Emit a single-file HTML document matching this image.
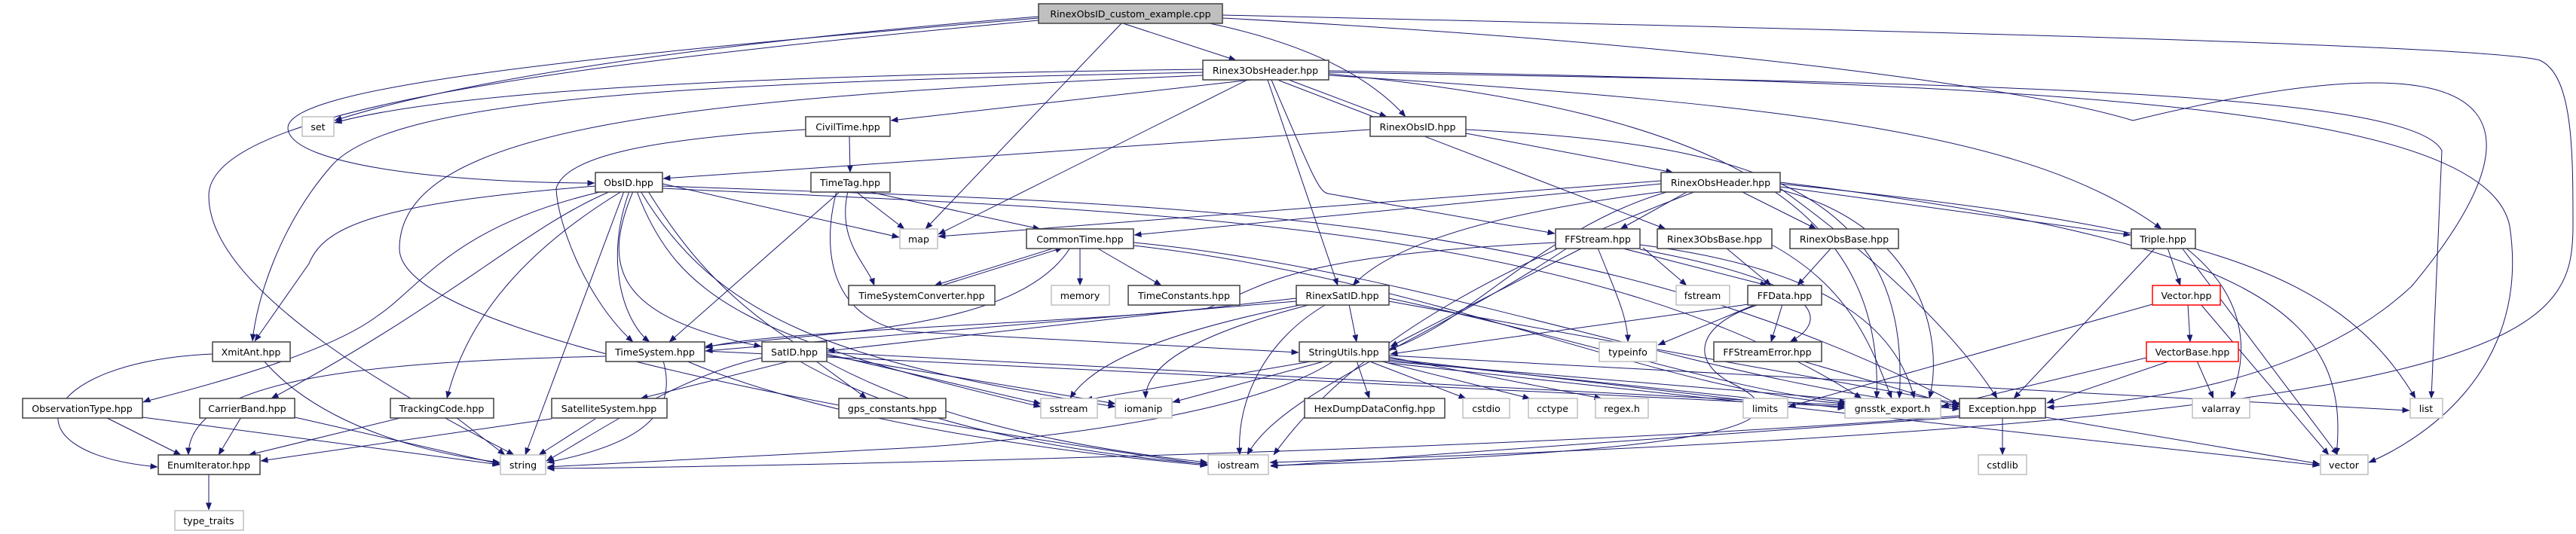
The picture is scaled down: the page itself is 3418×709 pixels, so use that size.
<!DOCTYPE html>
<html><head><meta charset="utf-8"><style>
html,body{margin:0;padding:0;background:#fff;}
svg{display:block;}
text{font-family:"DejaVu Sans","Liberation Sans",sans-serif;font-size:12.6px;fill:#000;text-anchor:middle;}
.e{fill:none;stroke:#191970;stroke-width:1;marker-end:url(#a);}
.b{fill:#fff;stroke:#404040;stroke-width:1.5;}
.g{fill:#fff;stroke:#bfbfbf;stroke-width:1.5;}
.r{fill:#fff;stroke:#ff0000;stroke-width:1.5;}
</style></head><body>
<svg width="3418" height="709" viewBox="0 0 3418 709" xmlns="http://www.w3.org/2000/svg">
<defs><marker id="a" markerWidth="10" markerHeight="8" refX="9.5" refY="4" orient="auto" markerUnits="userSpaceOnUse"><path d="M0,0 L10,4 L0,8 z" fill="#191970"/></marker></defs>
<g>
<path class="e" d="M1490,31 L1640,80"/>
<path class="e" d="M1605,31 Q1790,70 1865,155"/>
<path class="e" d="M1488,31 L1228,304"/>
<path class="e" d="M1378,22 C900,60 600,110 444,160"/>
<path class="e" d="M1378,24 C700,80 382,120 382,170 C384,220 600,243 789,243"/>
<path class="e" d="M1378,27 C700,90 277,150 277,260 C277,400 600,560 682,604"/>
<path class="e" d="M1622,20 C2500,40 3300,60 3370,80 C3414,100 3414,200 3414,300 C3414,450 3350,560 1685,614"/>
<path class="e" d="M1622,24 C2300,60 2700,120 2830,160 C3400,20 3350,200 3200,380 C3050,520 2800,535 2716,541"/>
<path class="e" d="M1596,92 C1000,100 600,120 444,163"/>
<path class="e" d="M1596,96 C900,110 520,130 440,220 C370,300 340,400 335,453"/>
<path class="e" d="M1660,106 L1182,160"/>
<path class="e" d="M1655,106 L1245,311"/>
<path class="e" d="M1596,100 C900,130 530,170 530,330 C530,450 1200,560 1602,617"/>
<path class="e" d="M1710,106 L1840,155"/>
<path class="e" d="M1682,106 L1775,379"/>
<path class="e" d="M1687,106 C1740,230 1750,255 1762,257 L2063,310"/>
<path class="e" d="M1695,106 L2210,304"/>
<path class="e" d="M1763,100 C2400,140 2700,180 2868,304"/>
<path class="e" d="M1763,96 C2600,110 3200,120 3240,200 L3226,529"/>
<path class="e" d="M1763,94 C2800,110 3300,150 3330,300 C3360,500 3200,590 3143,614"/>
<path class="e" d="M1763,98 C2300,150 2500,280 2490,529"/>
<path class="e" d="M1818,172 L880,237"/>
<path class="e" d="M1945,177 L2220,229"/>
<path class="e" d="M1945,172 C2300,190 2540,240 2520,529"/>
<path class="e" d="M1127,181 L1128,229"/>
<path class="e" d="M1069,172 C850,185 750,210 738,250 C740,300 780,400 840,454"/>
<path class="e" d="M1135,254 L1200,304"/>
<path class="e" d="M1150,254 L1380,304"/>
<path class="e" d="M1115,254 L888,454"/>
<path class="e" d="M1125,254 C1110,320 1150,350 1160,379"/>
<path class="e" d="M1110,254 C1090,330 1100,420 1200,440 L1723,468"/>
<path class="e" d="M879,244 L1193,315"/>
<path class="e" d="M879,247 C1500,270 2100,270 2600,538"/>
<path class="e" d="M879,250 C1500,280 2100,290 2470,529"/>
<path class="e" d="M790,247 C500,270 430,300 410,350 L338,453"/>
<path class="e" d="M800,254 C600,300 560,380 500,420 C420,480 200,530 190,534"/>
<path class="e" d="M810,254 C700,300 600,400 360,529"/>
<path class="e" d="M825,254 C700,330 620,420 593,529"/>
<path class="e" d="M828,254 L697,604"/>
<path class="e" d="M840,254 C800,350 810,420 1010,460"/>
<path class="e" d="M845,254 C900,400 1000,450 1381,540"/>
<path class="e" d="M850,254 C950,420 1100,480 1480,540"/>
<path class="e" d="M860,254 C950,400 1100,560 1602,614"/>
<path class="e" d="M835,254 C800,350 830,430 862,454"/>
<path class="e" d="M1400,329 L1240,379"/>
<path class="e" d="M1250,379 L1410,329"/>
<path class="e" d="M1433,329 L1433,379"/>
<path class="e" d="M1455,329 L1541,379"/>
<path class="e" d="M1420,329 C1350,440 1100,440 936,460"/>
<path class="e" d="M1504,322 C1900,360 2300,520 2600,540"/>
<path class="e" d="M1504,326 C1900,370 2200,520 2450,536"/>
<path class="e" d="M2204,240 L1245,314"/>
<path class="e" d="M2204,244 L1505,312"/>
<path class="e" d="M2240,254 L2150,304"/>
<path class="e" d="M2310,254 L2410,304"/>
<path class="e" d="M2210,254 C2000,280 1850,320 1795,379"/>
<path class="e" d="M2362,248 L2827,312"/>
<path class="e" d="M2215,254 C2050,300 1950,430 1843,464"/>
<path class="e" d="M2362,244 C2900,300 3100,350 3205,529"/>
<path class="e" d="M2362,242 C3000,320 3120,420 3100,604"/>
<path class="e" d="M2362,252 C2550,300 2580,450 2560,529"/>
<path class="e" d="M2362,250 C2500,350 2600,450 2650,529"/>
<path class="e" d="M2250,254 C2000,350 1800,450 1690,604"/>
<path class="e" d="M2180,329 L2238,379"/>
<path class="e" d="M2120,329 C2140,380 2160,420 2160,454"/>
<path class="e" d="M2150,329 L2345,379"/>
<path class="e" d="M2100,329 L1845,460"/>
<path class="e" d="M2080,329 C1900,450 1700,520 1655,604"/>
<path class="e" d="M2064,322 C1700,340 1680,380 1600,410 C1400,430 1000,440 936,462"/>
<path class="e" d="M2176,331 C2440,380 2420,430 2375,454"/>
<path class="e" d="M2176,325 C2450,360 2520,450 2540,529"/>
<path class="e" d="M2290,329 L2350,379"/>
<path class="e" d="M2430,329 L2385,379"/>
<path class="e" d="M2351,325 C2450,380 2480,450 2510,529"/>
<path class="e" d="M2365,404 L2350,454"/>
<path class="e" d="M2320,404 L1845,470"/>
<path class="e" d="M2330,404 L2200,458"/>
<path class="e" d="M2335,404 C2250,430 2240,480 2300,510 C2400,560 2300,600 1686,618"/>
<path class="e" d="M2390,479 L2600,540"/>
<path class="e" d="M1720,400 L936,466"/>
<path class="e" d="M1720,396 L1098,466"/>
<path class="e" d="M1730,404 C1550,440 1450,480 1420,529"/>
<path class="e" d="M1740,404 C1600,440 1520,480 1520,529"/>
<path class="e" d="M1760,404 C1680,450 1640,530 1645,604"/>
<path class="e" d="M1790,404 L1800,454"/>
<path class="e" d="M1843,400 L2600,536"/>
<path class="e" d="M1843,396 C2100,450 2300,520 2450,534"/>
<path class="e" d="M1050,479 L850,529"/>
<path class="e" d="M1082,479 L1150,529"/>
<path class="e" d="M1011,475 C900,500 800,570 725,612"/>
<path class="e" d="M1060,479 C1200,560 1400,600 1602,616"/>
<path class="e" d="M1097,470 L1381,536"/>
<path class="e" d="M1097,472 L1480,536"/>
<path class="e" d="M1097,468 L2448,538"/>
<path class="e" d="M880,479 C900,550 850,590 726,614"/>
<path class="e" d="M910,479 C1100,560 1400,600 1602,618"/>
<path class="e" d="M804,473 C500,480 250,500 250,604"/>
<path class="e" d="M935,466 L2448,540"/>
<path class="e" d="M282,470 C50,480 0,600 209,620"/>
<path class="e" d="M350,479 C420,560 550,600 663,614"/>
<path class="e" d="M140,554 L240,604"/>
<path class="e" d="M189,554 L663,617"/>
<path class="e" d="M320,554 L290,604"/>
<path class="e" d="M391,554 L663,616"/>
<path class="e" d="M535,554 L330,604"/>
<path class="e" d="M605,554 L670,604"/>
<path class="e" d="M732,556 L346,612"/>
<path class="e" d="M790,556 L715,604"/>
<path class="e" d="M277,629 L277,677"/>
<path class="e" d="M1800,479 L1817,529"/>
<path class="e" d="M1815,479 L1945,529"/>
<path class="e" d="M1830,479 L2030,529"/>
<path class="e" d="M1843,474 L2125,529"/>
<path class="e" d="M1745,479 L1440,531"/>
<path class="e" d="M1760,479 L1556,534"/>
<path class="e" d="M1770,479 C1650,560 1300,590 1200,595 C900,610 760,618 726,620"/>
<path class="e" d="M1843,476 L2372,538"/>
<path class="e" d="M1843,478 L2448,542"/>
<path class="e" d="M1843,480 L2600,543"/>
<path class="e" d="M1843,472 L3197,545"/>
<path class="e" d="M1843,482 L3078,618"/>
<path class="e" d="M2876,329 L2893,379"/>
<path class="e" d="M2860,329 L2672,529"/>
<path class="e" d="M2900,329 C2990,400 2980,480 2960,529"/>
<path class="e" d="M2895,329 L3102,604"/>
<path class="e" d="M2903,404 L2906,454"/>
<path class="e" d="M2856,404 L2373,540"/>
<path class="e" d="M2920,404 L3090,604"/>
<path class="e" d="M2880,479 L2716,535"/>
<path class="e" d="M2915,479 L2937,529"/>
<path class="e" d="M2848,475 L2576,540"/>
<path class="e" d="M2657,554 L2657,604"/>
<path class="e" d="M2600,552 C2000,600 1000,620 726,622"/>
<path class="e" d="M2600,554 L1686,619"/>
<path class="e" d="M2714,554 L3078,616"/>
</g>
<g>
<rect x="1378" y="5" width="244" height="26" fill="#bfbfbf" stroke="#404040" stroke-width="1.5"/><text x="1500" y="23">RinexObsID_custom_example.cpp</text>
<rect class="b" x="1596" y="80" width="167" height="26"/><text x="1679" y="98">Rinex3ObsHeader.hpp</text>
<rect class="g" x="401" y="155" width="42" height="26"/><text x="422" y="173">set</text>
<rect class="b" x="1069" y="155" width="112" height="26"/><text x="1125" y="173">CivilTime.hpp</text>
<rect class="b" x="1818" y="155" width="127" height="26"/><text x="1881" y="173">RinexObsID.hpp</text>
<rect class="b" x="790" y="229" width="89" height="26"/><text x="834" y="247">ObsID.hpp</text>
<rect class="b" x="1076" y="229" width="105" height="26"/><text x="1128" y="247">TimeTag.hpp</text>
<rect class="b" x="2204" y="229" width="158" height="26"/><text x="2283" y="247">RinexObsHeader.hpp</text>
<rect class="g" x="1194" y="304" width="50" height="26"/><text x="1219" y="322">map</text>
<rect class="b" x="1362" y="304" width="142" height="26"/><text x="1433" y="322">CommonTime.hpp</text>
<rect class="b" x="2064" y="304" width="112" height="26"/><text x="2120" y="322">FFStream.hpp</text>
<rect class="b" x="2199" y="304" width="152" height="26"/><text x="2275" y="322">Rinex3ObsBase.hpp</text>
<rect class="b" x="2375" y="304" width="144" height="26"/><text x="2447" y="322">RinexObsBase.hpp</text>
<rect class="b" x="2828" y="304" width="85" height="26"/><text x="2870" y="322">Triple.hpp</text>
<rect class="b" x="1126" y="379" width="194" height="26"/><text x="1223" y="397">TimeSystemConverter.hpp</text>
<rect class="g" x="1395" y="379" width="77" height="26"/><text x="1433" y="397">memory</text>
<rect class="b" x="1497" y="379" width="148" height="26"/><text x="1571" y="397">TimeConstants.hpp</text>
<rect class="b" x="1720" y="379" width="123" height="26"/><text x="1781" y="397">RinexSatID.hpp</text>
<rect class="g" x="2224" y="379" width="71" height="26"/><text x="2259" y="397">fstream</text>
<rect class="b" x="2319" y="379" width="98" height="26"/><text x="2368" y="397">FFData.hpp</text>
<rect class="r" x="2856" y="379" width="90" height="26"/><text x="2901" y="397">Vector.hpp</text>
<rect class="b" x="282" y="454" width="103" height="26"/><text x="333" y="472">XmitAnt.hpp</text>
<rect class="b" x="804" y="454" width="131" height="26"/><text x="869" y="472">TimeSystem.hpp</text>
<rect class="b" x="1011" y="454" width="86" height="26"/><text x="1054" y="472">SatID.hpp</text>
<rect class="b" x="1724" y="454" width="119" height="26"/><text x="1783" y="472">StringUtils.hpp</text>
<rect class="g" x="2122" y="454" width="76" height="26"/><text x="2160" y="472">typeinfo</text>
<rect class="b" x="2274" y="454" width="143" height="26"/><text x="2345" y="472">FFStreamError.hpp</text>
<rect class="r" x="2848" y="454" width="122" height="26"/><text x="2909" y="472">VectorBase.hpp</text>
<rect class="b" x="30" y="529" width="159" height="26"/><text x="109" y="547">ObservationType.hpp</text>
<rect class="b" x="265" y="529" width="126" height="26"/><text x="328" y="547">CarrierBand.hpp</text>
<rect class="b" x="518" y="529" width="137" height="26"/><text x="586" y="547">TrackingCode.hpp</text>
<rect class="b" x="732" y="529" width="153" height="26"/><text x="808" y="547">SatelliteSystem.hpp</text>
<rect class="b" x="1113" y="529" width="142" height="26"/><text x="1184" y="547">gps_constants.hpp</text>
<rect class="g" x="1381" y="529" width="75" height="26"/><text x="1418" y="547">sstream</text>
<rect class="g" x="1480" y="529" width="75" height="26"/><text x="1517" y="547">iomanip</text>
<rect class="b" x="1731" y="529" width="186" height="26"/><text x="1824" y="547">HexDumpDataConfig.hpp</text>
<rect class="g" x="1941" y="529" width="62" height="26"/><text x="1972" y="547">cstdio</text>
<rect class="g" x="2028" y="529" width="65" height="26"/><text x="2060" y="547">cctype</text>
<rect class="g" x="2117" y="529" width="70" height="26"/><text x="2152" y="547">regex.h</text>
<rect class="g" x="2313" y="529" width="59" height="26"/><text x="2342" y="547">limits</text>
<rect class="g" x="2448" y="529" width="127" height="26"/><text x="2511" y="547">gnsstk_export.h</text>
<rect class="b" x="2600" y="529" width="114" height="26"/><text x="2657" y="547">Exception.hpp</text>
<rect class="g" x="2909" y="529" width="76" height="26"/><text x="2947" y="547">valarray</text>
<rect class="g" x="3198" y="529" width="43" height="26"/><text x="3219" y="547">list</text>
<rect class="b" x="210" y="604" width="135" height="26"/><text x="277" y="622">EnumIterator.hpp</text>
<rect class="g" x="664" y="604" width="60" height="26"/><text x="694" y="622">string</text>
<rect class="g" x="1603" y="604" width="80" height="26"/><text x="1643" y="622">iostream</text>
<rect class="g" x="2625" y="604" width="64" height="26"/><text x="2657" y="622">cstdlib</text>
<rect class="g" x="3079" y="604" width="63" height="26"/><text x="3110" y="622">vector</text>
<rect class="g" x="232" y="678" width="91" height="26"/><text x="277" y="696">type_traits</text>
</g>
</svg>
</body></html>
